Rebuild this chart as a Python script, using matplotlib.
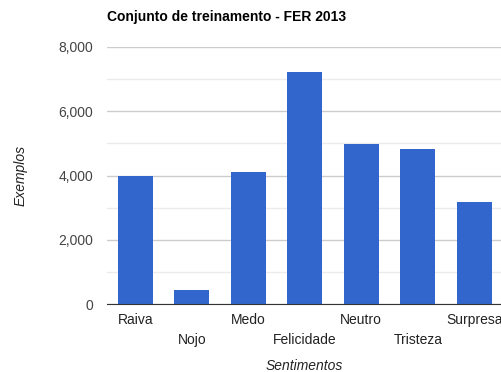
import matplotlib.pyplot as plt
from matplotlib.ticker import FuncFormatter, MultipleLocator

plt.rcParams['font.family'] = ['Liberation Sans', 'DejaVu Sans']

# Training set size per emotion class (FER 2013)
sentimentos = ['Raiva', 'Nojo', 'Medo', 'Felicidade', 'Neutro', 'Tristeza', 'Surpresa']
exemplos = [3995, 436, 4097, 7215, 4965, 4830, 3171]

fig = plt.figure(figsize=(5.01, 3.72), dpi=100)
ax = fig.add_axes([107 / 501, 1 - 304 / 372, 395.5 / 501, 257 / 372])

x = range(len(sentimentos))
ax.bar(x, exemplos, width=0.62, color='#3366cc', zorder=3)

ax.set_xlim(-0.5, len(sentimentos) - 0.5)
ax.set_ylim(0, 8000)
ax.yaxis.set_major_locator(MultipleLocator(2000))
ax.yaxis.set_minor_locator(MultipleLocator(1000))
ax.yaxis.set_major_formatter(FuncFormatter(lambda v, p: f'{int(v):,}'))
ax.grid(axis='y', which='major', color='#cccccc', linewidth=1, zorder=0)
ax.grid(axis='y', which='minor', color='#ebebeb', linewidth=1, zorder=0)

for side in ['top', 'right', 'left']:
    ax.spines[side].set_visible(False)
ax.spines['bottom'].set_color('#333333')
ax.spines['bottom'].set_zorder(4)

# alternate labels onto a second row so they don't overlap
labels = [s if i % 2 == 0 else '\n' + s for i, s in enumerate(sentimentos)]
ax.set_xticks(list(x))
ax.set_xticklabels(labels, linespacing=1.5)
ax.tick_params(axis='x', length=0, pad=6.5, labelsize=10, labelcolor='#222222')
ax.tick_params(axis='y', which='both', length=0, pad=10, labelsize=10, labelcolor='#444444')

ax.set_xlabel('Sentimentos', fontsize=10, style='italic', color='#222222', labelpad=9)
ax.set_ylabel('Exemplos', fontsize=10, style='italic', color='#222222', labelpad=22)

fig.text(107 / 501, 1 - 17 / 372, 'Conjunto de treinamento - FER 2013',
         fontsize=10, fontweight='bold', color='#000000', va='center', ha='left')

fig.savefig('out.png', dpi=100)
